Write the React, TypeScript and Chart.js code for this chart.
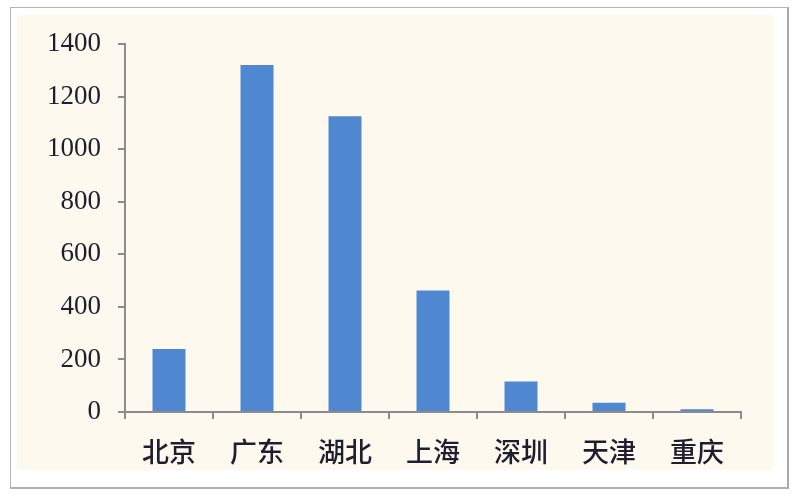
import React, { useEffect, useRef } from "react";
import { Chart, registerables } from "chart.js";

Chart.register(...registerables);

const categories = ["北京", "广东", "湖北", "上海", "深圳", "天津", "重庆"];
const values = [240, 1320, 1125, 462, 116, 35, 10];
const yTicks = [0, 200, 400, 600, 800, 1000, 1200, 1400];

export default function App() {
  const ref = useRef<HTMLCanvasElement | null>(null);

  useEffect(() => {
    if (!ref.current) return;
    const chart = new Chart(ref.current, {
      type: "bar",
      data: {
        labels: categories,
        datasets: [
          {
            data: values,
            backgroundColor: "#4F88D1",
            borderWidth: 0,
            barPercentage: 0.75,
            categoryPercentage: 0.5,
          },
        ],
      },
      options: {
        animation: false,
        responsive: false,
        maintainAspectRatio: false,
        layout: { padding: { left: 0, top: 44, right: 59, bottom: 0 } },
        plugins: { legend: { display: false }, tooltip: { enabled: false } },
        scales: {
          x: {
            offset: true,
            grid: {
              display: true,
              drawOnChartArea: false,
              drawTicks: true,
              tickLength: 7,
              color: "#8c8c8c",
              lineWidth: 2,
              offset: true,
            },
            border: { display: true, color: "#8c8c8c", width: 2 },
            ticks: {
              color: "#1e1e2e",
              padding: 17,
              font: { family: "'Noto Sans CJK SC'", size: 27, weight: 500 },
              maxRotation: 0,
              autoSkip: false,
            },
            afterFit: (s: any) => {
              s.height = 88;
            },
          },
          y: {
            min: 0,
            max: 1400,
            afterBuildTicks: (s: any) => {
              s.ticks = yTicks.map((v) => ({ value: v }));
            },
            grid: {
              display: true,
              drawOnChartArea: false,
              drawTicks: true,
              tickLength: 7,
              color: "#8c8c8c",
              lineWidth: 2,
            },
            border: { display: true, color: "#8c8c8c", width: 2 },
            ticks: {
              color: "#1e1e2e",
              padding: 17,
              font: { family: "'Liberation Serif', 'Times New Roman', serif", size: 27 },
              callback: (v: any) => String(v),
            },
            afterFit: (s: any) => {
              s.width = 125;
            },
          },
        },
      },
    });
    return () => chart.destroy();
  }, []);

  return (
    <div style={{ position: "fixed", left: 0, top: 0, width: 800, height: 500, background: "#fff" }}>
      <div
        style={{
          position: "absolute",
          left: 10,
          top: 7,
          width: 776,
          height: 479,
          borderTop: "1px solid #b5b5b5",
          borderLeft: "1px solid #b5b5b5",
          borderRight: "2px solid #a8a8a8",
          borderBottom: "2px solid #b0b0b0",
        }}
      />
      <div
        style={{
          position: "absolute",
          left: 17,
          top: 15,
          width: 756,
          height: 455,
          background: "#FEF9EE",
        }}
      />
      <canvas
        ref={ref}
        width={800}
        height={500}
        style={{ position: "absolute", left: 0, top: 0, width: 800, height: 500 }}
      />
    </div>
  );
}
